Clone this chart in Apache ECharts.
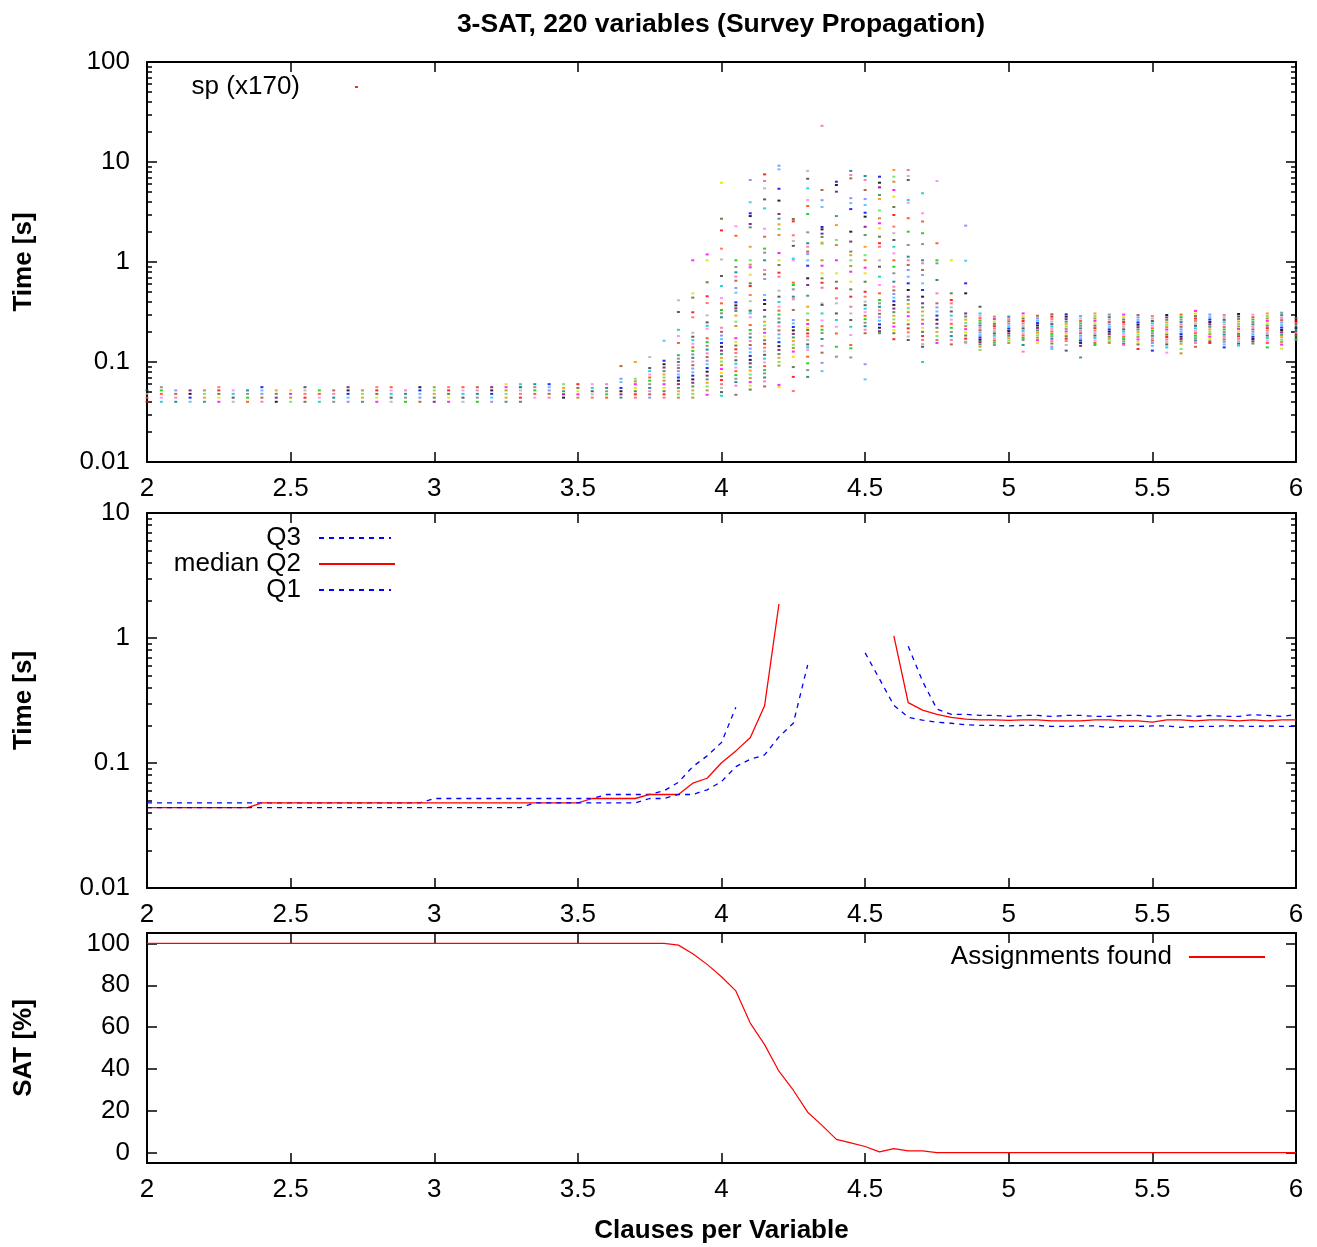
<!DOCTYPE html>
<html>
<head>
<meta charset="utf-8">
<title>3-SAT, 220 variables (Survey Propagation)</title>
<script src="https://cdn.jsdelivr.net/npm/echarts@6/dist/echarts.min.js"></script>
<style>body{margin:0;background:#fff}</style>
</head>
<body>
<div id="main" style="width:1317px;height:1247px;"></div>
<script type="text/javascript">
// clauses per variable (x)
var ratios = [2, 2.05, 2.1, 2.15, 2.2, 2.25, 2.3, 2.35, 2.4, 2.45,
    2.5, 2.55, 2.6, 2.65, 2.7, 2.75, 2.8, 2.85, 2.9, 2.95,
    3, 3.05, 3.1, 3.15, 3.2, 3.25, 3.3, 3.35, 3.4, 3.45,
    3.5, 3.55, 3.6, 3.65, 3.7, 3.75, 3.8, 3.85, 3.9, 3.95,
    4, 4.05, 4.1, 4.15, 4.2, 4.25, 4.3, 4.35, 4.4, 4.45,
    4.5, 4.55, 4.6, 4.65, 4.7, 4.75, 4.8, 4.85, 4.9, 4.95,
    5, 5.05, 5.1, 5.15, 5.2, 5.25, 5.3, 5.35, 5.4, 5.45,
    5.5, 5.55, 5.6, 5.65, 5.7, 5.75, 5.8, 5.85, 5.9, 5.95, 6]

// sp run times [s], the distinct dots seen in each column
var spTimes = [
    [0.040,0.044,0.048,0.052],
    [0.040,0.044,0.048,0.052,0.056],
    [0.040,0.044,0.048,0.052],
    [0.040,0.044,0.048,0.052],
    [0.040,0.044,0.048,0.052],
    [0.040,0.044,0.048,0.052,0.056],
    [0.040,0.044,0.048,0.052],
    [0.040,0.044,0.048,0.052],
    [0.040,0.044,0.048,0.052,0.056],
    [0.040,0.044,0.048,0.052],
    [0.040,0.044,0.048,0.052],
    [0.040,0.044,0.048,0.052,0.056],
    [0.040,0.044,0.048,0.052],
    [0.040,0.044,0.048,0.052],
    [0.040,0.044,0.048,0.052,0.056],
    [0.040,0.044,0.048,0.052],
    [0.040,0.044,0.048,0.052,0.056],
    [0.040,0.044,0.048,0.052,0.056],
    [0.040,0.044,0.048,0.052],
    [0.040,0.044,0.048,0.052,0.056],
    [0.040,0.044,0.048,0.052,0.056],
    [0.040,0.044,0.048,0.052,0.056],
    [0.040,0.044,0.048,0.052,0.056],
    [0.040,0.044,0.048,0.052,0.056],
    [0.040,0.044,0.048,0.052,0.056],
    [0.040,0.044,0.048,0.052,0.056,0.060],
    [0.040,0.044,0.048,0.052,0.056,0.060],
    [0.044,0.048,0.052,0.056,0.060],
    [0.044,0.048,0.052,0.056,0.060],
    [0.044,0.0475,0.051,0.055,0.060],
    [0.044,0.0475,0.051,0.055,0.060],
    [0.044,0.0475,0.051,0.055,0.060],
    [0.044,0.0475,0.051,0.055,0.060],
    [0.091,0.068,0.063,0.055,0.051,0.0475,0.044],
    [0.1,0.068,0.064,0.060,0.055,0.051,0.0475,0.044],
    [0.112,0.087,0.081,0.075,0.070,0.065,0.060,0.055,0.051,0.0475,0.044],
    [0.163,0.103,0.095,0.088,0.081,0.075,0.070,0.065,0.060,0.055,0.051,0.0475,0.044],
    [0.414,0.316,0.21,0.182,0.155,0.117,0.108,0.1,0.093,0.087,0.081,0.075,0.070,0.065,0.060,0.055,0.051,0.0475,0.044],
    [1.04,0.486,0.44,0.314,0.28,0.196,0.179,0.165,0.152,0.14,0.129,0.119,0.11,0.101,0.093,0.086,0.079,0.073,0.067,0.062,0.057,0.052,0.048,0.044],
    [1.19,1.04,0.627,0.454,0.389,0.293,0.249,0.23,0.215,0.173,0.158,0.145,0.133,0.122,0.112,0.103,0.095,0.087,0.08,0.073,0.067,0.062,0.057,0.052,0.047],
    [6.2,2.71,2.07,1.36,1.06,0.724,0.575,0.437,0.386,0.331,0.307,0.28,0.22,0.2,0.184,0.169,0.155,0.142,0.13,0.12,0.11,0.101,0.093,0.085,0.078,0.072,0.066,0.06,0.055,0.05,0.046],
    [2.28,1.83,1.04,0.891,0.789,0.713,0.65,0.55,0.493,0.395,0.368,0.344,0.324,0.291,0.253,0.229,0.173,0.159,0.146,0.134,0.123,0.113,0.104,0.096,0.088,0.081,0.074,0.068,0.063,0.058,0.047],
    [6.61,3.96,3.07,2.88,2.4,2.22,1.42,1.04,0.94,0.885,0.746,0.612,0.575,0.468,0.405,0.326,0.307,0.28,0.234,0.209,0.192,0.176,0.162,0.148,0.136,0.125,0.115,0.105,0.097,0.089,0.082,0.075,0.069,0.063,0.058,0.053],
    [7.52,6.46,5.45,4.23,3.44,2.15,1.79,1.36,1.24,1.04,0.832,0.753,0.676,0.468,0.417,0.38,0.331,0.284,0.253,0.232,0.213,0.196,0.18,0.165,0.152,0.139,0.128,0.118,0.108,0.099,0.091,0.083,0.077,0.07,0.064,0.057],
    [9.18,8.45,5.4,4.11,3.02,2.71,2.38,2.14,1.86,1.23,1.04,0.933,0.782,0.713,0.516,0.45,0.398,0.357,0.326,0.298,0.272,0.249,0.227,0.207,0.189,0.173,0.158,0.144,0.132,0.12,0.11,0.1,0.092,0.059,0.056],
    [2.69,2.55,1.85,1.62,1.45,1.08,1.04,0.621,0.589,0.533,0.45,0.424,0.331,0.263,0.243,0.224,0.207,0.191,0.176,0.162,0.149,0.138,0.127,0.113,0.089,0.071,0.0513],
    [8.15,6.8,5.45,4.17,3.63,3.02,1.98,1.54,1.42,1.27,1.2,1.04,0.918,0.687,0.589,0.46,0.357,0.306,0.263,0.24,0.22,0.209,0.193,0.18,0.166,0.15,0.14,0.132,0.113,0.097,0.083,0.071],
    [23.0,5.25,4.15,3.55,2.24,2.12,1.92,1.78,1.56,1.52,1.04,0.918,0.772,0.687,0.62,0.553,0.385,0.372,0.306,0.26,0.228,0.21,0.195,0.17,0.145,0.124,0.098,0.081],
    [6.35,5.89,5.05,2.88,2.34,1.66,1.48,1.04,0.771,0.635,0.546,0.434,0.386,0.306,0.263,0.225,0.193,0.142,0.113],
    [8.15,7.41,6.86,4.35,3.88,3.38,2.01,1.6,1.27,1.17,1.04,0.912,0.8,0.635,0.533,0.45,0.357,0.306,0.263,0.225,0.186,0.148,0.137,0.111],
    [7.24,6.61,5.25,4.27,3.72,3.11,2.84,2.25,1.86,1.42,1.17,1.04,0.877,0.771,0.635,0.504,0.45,0.401,0.37,0.341,0.315,0.29,0.268,0.247,0.228,0.21,0.194,0.095,0.067],
    [7.13,6.21,5.58,4.68,4.27,3.27,2.74,2.44,2.17,1.79,1.54,1.42,1.04,0.897,0.713,0.589,0.486,0.417,0.386,0.356,0.328,0.303,0.28,0.258,0.238,0.22,0.203,0.194],
    [8.32,7.13,6.35,5.25,4.5,3.55,2.95,2.26,1.94,1.66,1.42,1.22,1.04,0.897,0.771,0.635,0.566,0.52,0.479,0.44,0.405,0.372,0.342,0.315,0.29,0.267,0.245,0.226,0.208,0.194,0.169],
    [8.32,7.24,6.61,4.17,3.92,2.74,2.01,1.48,1.13,1.04,0.933,0.832,0.713,0.612,0.525,0.45,0.417,0.38,0.346,0.315,0.287,0.262,0.238,0.217,0.198,0.18,0.166],
    [4.87,3.07,2.54,1.94,1.51,1.04,0.97,0.832,0.741,0.612,0.525,0.45,0.386,0.352,0.32,0.291,0.265,0.241,0.22,0.2,0.182,0.166,0.151,0.142,0.1],
    [6.46,1.54,1.04,0.97,0.661,0.486,0.386,0.352,0.32,0.291,0.265,0.241,0.22,0.2,0.182,0.166,0.155],
    [1.04,0.486,0.417,0.386,0.352,0.32,0.291,0.265,0.241,0.22,0.2,0.182,0.166,0.15],
    [2.31,1.03,0.612,0.486,0.306,0.285,0.265,0.246,0.229,0.213,0.198,0.184,0.171,0.159,0.155],
    [0.357,0.306,0.29,0.274,0.259,0.245,0.232,0.22,0.208,0.197,0.186,0.176,0.167,0.158,0.15,0.142,0.132],
    [0.284,0.269,0.255,0.241,0.228,0.216,0.204,0.193,0.183,0.173,0.164,0.156,0.148],
    [0.284,0.269,0.255,0.241,0.228,0.216,0.204,0.193,0.183,0.173,0.164,0.155],
    [0.306,0.288,0.272,0.257,0.243,0.23,0.217,0.205,0.194,0.184,0.174,0.166,0.148,0.127],
    [0.29,0.274,0.259,0.245,0.232,0.219,0.207,0.196,0.185,0.175,0.165,0.155],
    [0.3,0.284,0.268,0.253,0.239,0.226,0.214,0.202,0.191,0.181,0.171,0.162,0.153,0.142,0.135],
    [0.3,0.284,0.268,0.253,0.239,0.226,0.214,0.202,0.191,0.181,0.171,0.162,0.148,0.13],
    [0.288,0.272,0.257,0.243,0.23,0.217,0.205,0.194,0.183,0.173,0.164,0.155,0.145,0.111],
    [0.306,0.289,0.273,0.258,0.244,0.231,0.218,0.206,0.195,0.184,0.174,0.164,0.155,0.148],
    [0.298,0.281,0.266,0.251,0.238,0.225,0.212,0.201,0.19,0.179,0.17,0.161,0.155],
    [0.298,0.281,0.266,0.251,0.238,0.225,0.212,0.201,0.19,0.179,0.17,0.161,0.152,0.148],
    [0.295,0.279,0.264,0.249,0.236,0.223,0.211,0.199,0.188,0.178,0.168,0.159,0.15,0.135],
    [0.288,0.272,0.257,0.243,0.23,0.217,0.205,0.194,0.183,0.173,0.164,0.155,0.145,0.13],
    [0.295,0.279,0.264,0.249,0.236,0.223,0.211,0.199,0.188,0.178,0.168,0.159,0.15,0.14,0.124],
    [0.298,0.281,0.266,0.251,0.238,0.225,0.212,0.201,0.19,0.179,0.17,0.161,0.152,0.135,0.122],
    [0.324,0.305,0.288,0.272,0.257,0.243,0.23,0.217,0.205,0.194,0.183,0.173,0.164,0.155,0.142],
    [0.298,0.281,0.266,0.251,0.238,0.225,0.212,0.201,0.19,0.179,0.17,0.161,0.155],
    [0.295,0.279,0.264,0.249,0.236,0.223,0.211,0.199,0.188,0.178,0.168,0.159,0.15,0.14],
    [0.302,0.285,0.269,0.254,0.24,0.227,0.214,0.202,0.191,0.181,0.171,0.162,0.153,0.146],
    [0.298,0.281,0.266,0.251,0.238,0.225,0.212,0.201,0.19,0.179,0.17,0.161,0.153],
    [0.306,0.289,0.273,0.258,0.244,0.231,0.218,0.206,0.195,0.184,0.174,0.164,0.155,0.14],
    [0.311,0.294,0.277,0.262,0.248,0.234,0.221,0.209,0.198,0.187,0.177,0.167,0.158,0.149,0.136],
    [0.274,0.259,0.245,0.232,0.219,0.207,0.196,0.185,0.175,0.166]
]

// quartiles of the run time [s], null = no value (unsat runs dominate)
var q3 = [0.048,0.048,0.048,0.048,0.048,0.048,0.048,0.048,0.048,0.048,
    0.048,0.048,0.048,0.048,0.048,0.048,0.048,0.048,0.048,0.048,
    0.052,0.052,0.052,0.052,0.052,0.052,0.052,0.052,0.052,0.052,
    0.052,0.052,0.056,0.056,0.056,0.056,0.06,0.07,0.0935,0.114,
    0.146,0.279,null,null,null,null,null,null,null,null,
    null,null,null,0.86,0.45,0.27,0.245,0.245,0.24,0.24,
    0.236,0.24,0.24,0.236,0.24,0.24,0.236,0.236,0.24,0.24,
    0.236,0.24,0.24,0.236,0.24,0.236,0.236,0.244,0.24,0.236,
    0.244]
var q2 = [0.044,0.044,0.044,0.044,0.044,0.044,0.044,0.044,0.048,0.048,
    0.048,0.048,0.048,0.048,0.048,0.048,0.048,0.048,0.048,0.048,
    0.048,0.048,0.048,0.048,0.048,0.048,0.048,0.048,0.048,0.048,
    0.048,0.052,0.052,0.052,0.052,0.056,0.056,0.056,0.069,0.0755,
    0.1005,0.125,0.159,0.287,1.87,null,null,null,null,null,
    null,null,1.04,0.304,0.265,0.245,0.232,0.224,0.221,0.221,
    0.219,0.221,0.221,0.217,0.217,0.217,0.221,0.221,0.217,0.217,
    0.212,0.221,0.221,0.217,0.221,0.221,0.217,0.221,0.217,0.221,
    0.221]
var q1 = [0.044,0.044,0.044,0.044,0.044,0.044,0.044,0.044,0.044,0.044,
    0.044,0.044,0.044,0.044,0.044,0.044,0.044,0.044,0.044,0.044,
    0.044,0.044,0.044,0.044,0.044,0.044,0.044,0.048,0.048,0.048,
    0.048,0.048,0.048,0.048,0.048,0.052,0.052,0.056,0.056,0.061,
    0.071,0.0935,0.107,0.116,0.162,0.208,0.608,null,null,null,
    0.76,0.47,0.29,0.232,0.22,0.212,0.208,0.202,0.2,0.2,
    0.198,0.2,0.2,0.196,0.196,0.198,0.198,0.193,0.196,0.196,
    0.198,0.198,0.193,0.196,0.196,0.198,0.198,0.196,0.198,0.196,
    0.196]

// share of instances where an assignment was found [%]
var satFound = [100,100,100,100,100,100,100,100,100,100,
    100,100,100,100,100,100,100,100,100,100,
    100,100,100,100,100,100,100,100,100,100,
    100,100,100,100,100,100,100,99.2,95.1,90,
    84.1,77.3,61.9,51.6,38.9,29.8,19.3,13,6.3,4.6,
    2.9,0.3,1.9,0.8,0.8,0,0,0,0,0,
    0,0,0,0,0,0,0,0,0,0,
    0,0,0,0,0,0,0,0,0,0,
    0]

var satTicks = [0, 20, 40, 60, 80, 100]

var dotColors = ['#ff0000','#00cc00','#0000ff','#ff00ff','#00cccc','#a0522d','#ff8c00','#ff6060',
    '#808080','#000000','#e0e000','#ff80ff','#8080ff','#60e060','#b0b0b0','#008080',
    '#800080','#556b2f','#ff4500','#40c0ff','#b8860b','#404040','#ff69b4','#2e8b57']

var FONT = 'Liberation Sans, Arial, Helvetica, sans-serif'

var spPoints = []
for (var i = 0; i < ratios.length; i++) {
    for (var j = 0; j < spTimes[i].length; j++) {
        spPoints.push([ratios[i], spTimes[i][j]])
    }
}
var pairs = function(ys) {
    return ys.map(function(y, i) { return [ratios[i], y == null ? '-' : y] })
}

// minor tick positions, as exponents, for a helper axis laid over a log axis
var minorExps = function(lo, hi) {
    var out = []
    for (var e = lo; e < hi; e++) {
        for (var m = 2; m <= 9; m++) out.push(e + Math.log10(m))
    }
    return out
}

var tickLine = {color: '#000', width: 1.5}
var frame = {show: true, onZero: false, lineStyle: {color: '#000', width: 2}}
var labelFont = {fontSize: 26, color: '#000', fontFamily: FONT}
var nameFont = {fontSize: 26, fontWeight: 'bold', color: '#000', fontFamily: FONT}

var xAxes = []
var yAxes = []
var addX = function(grid, name) {
    xAxes.push({
        type: 'value', gridIndex: grid, position: 'bottom', min: 2, max: 6, interval: 0.5,
        axisLine: frame, splitLine: {show: false},
        axisTick: {inside: true, length: 10, lineStyle: tickLine},
        axisLabel: Object.assign({margin: 14, showMinLabel: true, showMaxLabel: true}, labelFont),
        name: name || '', nameLocation: 'middle', nameGap: 55, nameTextStyle: nameFont,
        nameMoveOverlap: false
    })
    xAxes.push({
        type: 'value', gridIndex: grid, position: 'top', min: 2, max: 6, interval: 0.5,
        axisLine: frame, splitLine: {show: false},
        axisTick: {inside: true, length: 10, lineStyle: tickLine},
        axisLabel: {show: false}
    })
}
var addLogY = function(grid, min, max, lo, hi, name) {
    yAxes.push({
        type: 'log', logBase: 10, gridIndex: grid, position: 'left', min: min, max: max,
        axisLine: frame, splitLine: {show: false}, minorTick: {show: false},
        axisTick: {inside: true, length: 10, lineStyle: tickLine},
        axisLabel: Object.assign({margin: 17, showMinLabel: true, showMaxLabel: true}, labelFont),
        name: name, nameLocation: 'middle', nameGap: 110, nameRotate: 90,
        nameTextStyle: nameFont, nameMoveOverlap: false
    })
    yAxes.push({
        type: 'log', logBase: 10, gridIndex: grid, position: 'right', min: min, max: max,
        axisLine: frame, splitLine: {show: false},
        axisTick: {inside: true, length: 10, lineStyle: tickLine},
        axisLabel: {show: false}
    })
    ;['left', 'right'].forEach(function(side) {
        yAxes.push({
            type: 'value', gridIndex: grid, position: side, min: lo, max: hi,
            axisLine: {show: false, onZero: false}, splitLine: {show: false}, axisLabel: {show: false},
            axisTick: {inside: true, length: 5, lineStyle: tickLine, customValues: minorExps(lo, hi)}
        })
    })
}

var grids = [
    {left: 147, width: 1149, top: 62, height: 400},
    {left: 147, width: 1149, top: 513, height: 375},
    {left: 147, width: 1149, top: 933, height: 230}
]
grids.forEach(function(g) { g.outerBoundsMode = 'none' })

addX(0)
addX(1)
addX(2, 'Clauses per Variable')
addLogY(0, 0.01, 100, -2, 2, 'Time [s]')
addLogY(1, 0.01, 10, -2, 1, 'Time [s]')
;['left', 'right'].forEach(function(side) {
    yAxes.push({
        type: 'value', gridIndex: 2, position: side, min: -5, max: 105,
        axisLine: frame, splitLine: {show: false},
        axisTick: {inside: true, length: 10, lineStyle: tickLine, customValues: satTicks},
        axisLabel: side == 'left'
            ? Object.assign({margin: 17, customValues: satTicks}, labelFont)
            : {show: false},
        name: side == 'left' ? 'SAT [%]' : '', nameLocation: 'middle', nameGap: 110, nameRotate: 90,
        nameTextStyle: nameFont, nameMoveOverlap: false
    })
})

var legendText = function(gap) {
    return {fontSize: 26, color: '#000', fontFamily: FONT, padding: [0, gap, 0, 0]}
}
// line legends show only the line sample, no marker
var noMarker = {color: 'rgba(0,0,0,0)', borderWidth: 0, opacity: 0}
var lineLegend = function(name, right, top, width, gap) {
    return {data: [name], align: 'right', right: right, top: top, padding: 0,
        itemWidth: width, itemHeight: 14, selectedMode: false,
        itemStyle: noMarker, textStyle: legendText(gap)}
}

var myChart = echarts.init(document.querySelector('#main'))
var option = {
    animation: false,
    backgroundColor: '#fff',
    title: {
        text: '3-SAT, 220 variables (Survey Propagation)',
        left: 721, textAlign: 'center', top: 11, padding: 0,
        textStyle: {fontSize: 26.5, fontWeight: 'bold', color: '#000', fontFamily: FONT}
    },
    grid: grids,
    xAxis: xAxes,
    yAxis: yAxes,
    legend: [
        {data: [{name: 'sp (x170)', itemStyle: {color: '#ff0000'}}], icon: 'rect', align: 'right',
            right: 959, top: 74, padding: 0, itemWidth: 3, itemHeight: 2, selectedMode: false,
            textStyle: legendText(50)},
        lineLegend('Q3', 925, 525, 72, 13),
        lineLegend('median Q2', 921, 551, 76, 13),
        lineLegend('Q1', 925, 577, 72, 13),
        lineLegend('Assignments found', 51, 944, 76, 12)
    ],
    series: [
        {
            name: 'sp (x170)', type: 'scatter', xAxisIndex: 0, yAxisIndex: 0,
            symbol: 'rect', symbolSize: [3, 2], data: spPoints,
            itemStyle: {
                opacity: 0.85,
                color: function(p) { return dotColors[(p.dataIndex * 7) % dotColors.length] }
            }
        },
        {
            name: 'Q3', type: 'line', xAxisIndex: 2, yAxisIndex: 4, data: pairs(q3),
            symbol: 'none', lineStyle: {color: '#0000ff', width: 1.3, type: [5, 5]}, itemStyle: {color: '#0000ff'}
        },
        {
            name: 'median Q2', type: 'line', xAxisIndex: 2, yAxisIndex: 4, data: pairs(q2),
            symbol: 'none', lineStyle: {color: '#ff0000', width: 1.3}, itemStyle: {color: '#ff0000'}
        },
        {
            name: 'Q1', type: 'line', xAxisIndex: 2, yAxisIndex: 4, data: pairs(q1),
            symbol: 'none', lineStyle: {color: '#0000ff', width: 1.3, type: [5, 5]}, itemStyle: {color: '#0000ff'}
        },
        {
            name: 'Assignments found', type: 'line', xAxisIndex: 4, yAxisIndex: 8, data: pairs(satFound),
            symbol: 'none', lineStyle: {color: '#ff0000', width: 1.2}, itemStyle: {color: '#ff0000'}
        }
    ]
}
myChart.setOption(option)
</script>
</body>
</html>
